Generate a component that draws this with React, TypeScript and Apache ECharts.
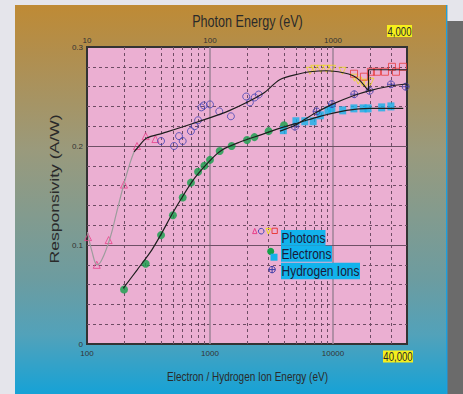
import React, { useEffect, useRef } from 'react';
import * as echarts from 'echarts';

// ---------- data (photon energies in eV on the top axis, electron / ion energies in eV on the bottom axis) ----------
const photonTriangles: [number, number][] = [
  [10.2, 0.108], [12, 0.08], [15, 0.105], [20, 0.161], [25.5, 0.2], [30, 0.21], [36, 0.207],
];
const photonCircles: [number, number][] = [
  [40, 0.205], [51, 0.2], [56, 0.21], [60, 0.205], [70, 0.215], [75, 0.22], [80, 0.226], [85, 0.239],
  [89, 0.241], [100, 0.242], [119, 0.235], [148, 0.23], [197, 0.25], [211, 0.244], [231, 0.249], [249, 0.252],
];
const photonDownTriangles: [number, number][] = [
  [650, 0.276], [705, 0.278], [794, 0.278], [885, 0.278], [981, 0.278], [1194, 0.276],
  [1496, 0.269], [1606, 0.266], [1738, 0.264], [1855, 0.263], [2018, 0.265],
];
const photonSquares: [number, number][] = [
  [1483, 0.273], [1786, 0.27], [2036, 0.275], [2278, 0.275], [2647, 0.275], [3019, 0.28], [3253, 0.275], [3709, 0.28],
];
const photonFitGray: [number, number][] = [
  [10.1, 0.113], [11, 0.093], [12.1, 0.08], [13.2, 0.085], [15.4, 0.107], [17.5, 0.134], [20, 0.162], [22.4, 0.183], [24.1, 0.194],
];
const photonFitBlack: [number, number][] = [
  [24.1, 0.194], [26.1, 0.199], [30.6, 0.208], [41.5, 0.213], [78, 0.224], [145, 0.236], [270, 0.253], [369, 0.267],
  [536, 0.273], [650, 0.275], [889, 0.276], [1212, 0.274], [1459, 0.271], [1660, 0.266], [1882, 0.258], [1947, 0.256],
];
const photonBracket: [number, number][] = [
  [1947, 0.256], [1947, 0.277], [4000, 0.277],
];
const electronDots: [number, number][] = [
  [200, 0.055], [300, 0.081], [400, 0.11], [500, 0.13], [600, 0.148], [700, 0.163], [800, 0.174], [900, 0.18],
  [1000, 0.186], [1200, 0.195], [1500, 0.2], [2000, 0.206], [2300, 0.209], [3000, 0.215], [4000, 0.221],
];
const electronSquares: [number, number][] = [
  [3950, 0.216], [5000, 0.225], [5900, 0.225], [6900, 0.225], [7900, 0.231], [9100, 0.236], [9800, 0.238],
  [12000, 0.236], [14800, 0.238], [17600, 0.238], [19300, 0.238], [24900, 0.239], [29600, 0.24],
];
const electronFit: [number, number][] = [
  [197, 0.0562], [255, 0.0747], [336, 0.0949], [405, 0.112], [491, 0.131], [592, 0.148], [755, 0.168],
  [1032, 0.187], [1253, 0.196], [1754, 0.204], [2552, 0.211], [3948, 0.219], [5395, 0.224], [7836, 0.23],
  [12910, 0.236], [20000, 0.238], [37300, 0.238],
];
const hydrogenPoints: [number, number][] = [
  [4910, 0.2195], [7360, 0.235], [9810, 0.2424], [14900, 0.2523], [19870, 0.2557], [29650, 0.2623], [39000, 0.2599],
];
const hydrogenFit: [number, number][] = [
  [3707, 0.215], [4910, 0.221], [5920, 0.227], [7360, 0.234], [9810, 0.242], [14800, 0.251], [20000, 0.256],
  [29600, 0.2606], [40000, 0.2626],
];

const minorGridX = [200, 300, 400, 500, 600, 700, 800, 900, 2000, 3000, 4000, 5000, 6000, 7000, 8000, 9000, 20000, 30000];
const majorGridX = [1000, 10000];
const majorGridY = [0.1, 0.2];
const legendNames = ['Photons', 'Electrons', 'Hydrogen Ions'];

const FONT = 'Liberation Sans';
const crossCircle = 'path://M10 1A9 9 0 1 1 9.99 1ZM10 1L10 19M1 10L19 10';

export default function App() {
  const ref = useRef<HTMLDivElement>(null);
  useEffect(() => {
    document.body.style.margin = '0';
    const chart = echarts.init(ref.current!, null, { renderer: 'svg' });

    const hollow = (c: string) => ({ color: 'rgba(0,0,0,0)', borderColor: c, borderWidth: 1 });
    const scaledText = (text: string, x: number, y: number, size: number, extra: any = {}) => ({
      type: 'text', x, y, scaleY: 1.3, z: 10,
      style: { text, fontSize: size, fontFamily: FONT, fill: '#2a2a2a', align: 'center', verticalAlign: 'middle', textAlign: 'center', textVerticalAlign: 'middle' },
      ...extra,
    });

    const markData: any[] = [
      ...minorGridX.map((v) => ({ xAxis: v, lineStyle: { type: [3, 3], color: '#6e4c64', width: 1 } })),
      ...majorGridX.map((v) => ({ xAxis: v, lineStyle: { type: 'solid', color: '#a2869a', width: 1.6 } })),
      ...majorGridY.map((v) => ({ yAxis: v, lineStyle: { type: 'solid', color: '#6e5066', width: 1.2 } })),
    ];

    const legendBoxes = [
      { x: 281, y: 230, w: 44.5, h: 15.7 },
      { x: 281, y: 245.7, w: 51, h: 16 },
      { x: 281, y: 262.8, w: 79, h: 16.4 },
    ];

    const tickLabel = (margin: number) => ({
      fontSize: 8, color: '#333', margin, fontFamily: FONT, showMaxLabel: false,
      formatter: (v: number) => String(Math.round(v)),
    });

    const option: any = {
      animation: false,
      backgroundColor: new echarts.graphic.LinearGradient(0, 0, 0, 1, [
        { offset: 0, color: '#c08a32' },
        { offset: 0.13, color: '#b28e4c' },
        { offset: 0.38, color: '#9a9a7c' },
        { offset: 0.71, color: '#6c9ca0' },
        { offset: 0.85, color: '#52a2ba' },
        { offset: 1, color: '#16a2d6' },
      ]),
      grid: {
        left: 87, top: 47, width: 320, height: 297, show: true,
        backgroundColor: '#ebafd2', borderColor: '#333', borderWidth: 2,
      },
      xAxis: [
        {
          type: 'log', logBase: 10, min: 100, max: 40000, position: 'bottom',
          axisLine: { show: false }, axisTick: { show: false }, splitLine: { show: false },
          axisLabel: tickLabel(5),
        },
        {
          type: 'log', logBase: 10, min: 10, max: 4000, position: 'top',
          axisLine: { show: false }, axisTick: { show: false }, splitLine: { show: false },
          axisLabel: tickLabel(3),
        },
      ],
      yAxis: {
        type: 'value', min: 0, max: 0.3, interval: 0.1,
        axisLine: { show: false }, axisTick: { show: false }, splitLine: { show: false },
        minorTick: { show: false, splitNumber: 5 },
        minorSplitLine: { show: true, lineStyle: { type: [3, 3], color: '#6e4c64', width: 1 } },
        axisLabel: { fontSize: 8, color: '#333', margin: 4, fontFamily: FONT, formatter: (v: number) => (v === 0 ? '0' : v.toFixed(1)) },
      },
      series: [
        {
          type: 'line', xAxisIndex: 0, data: electronFit, smooth: 0.3, symbol: 'none',
          lineStyle: { color: '#1e1e1e', width: 1.2 },
          markLine: { z: 1, silent: true, symbol: ['none', 'none'], label: { show: false }, animation: false, data: markData },
        },
        { type: 'line', xAxisIndex: 1, data: photonFitGray, smooth: 0.4, symbol: 'none', lineStyle: { color: '#9c9c9c', width: 1.2 } },
        { type: 'line', xAxisIndex: 1, data: photonFitBlack, smooth: 0.3, symbol: 'none', lineStyle: { color: '#1e1e1e', width: 1.2 } },
        { type: 'line', xAxisIndex: 1, data: photonBracket, symbol: 'none', lineStyle: { color: '#1e1e1e', width: 1.2 } },
        { type: 'line', xAxisIndex: 0, data: hydrogenFit, smooth: 0.3, symbol: 'none', lineStyle: { color: '#1e1e1e', width: 1.2 } },
        { type: 'scatter', xAxisIndex: 1, data: photonTriangles, symbol: 'triangle', symbolSize: 7, itemStyle: hollow('#e8408a') },
        { type: 'scatter', xAxisIndex: 1, data: photonCircles, symbol: 'circle', symbolSize: 7, itemStyle: hollow('#4444b4') },
        { type: 'scatter', xAxisIndex: 1, data: photonDownTriangles, symbol: 'triangle', symbolRotate: 180, symbolSize: 7, itemStyle: hollow('#eedc1c') },
        { type: 'scatter', xAxisIndex: 1, data: photonSquares, symbol: 'rect', symbolSize: 7, itemStyle: hollow('#e83c3c') },
        { type: 'scatter', xAxisIndex: 0, data: electronDots, symbol: 'circle', symbolSize: 8, itemStyle: { color: '#13a04a' } },
        { type: 'scatter', xAxisIndex: 0, data: electronSquares, symbol: 'rect', symbolSize: [7, 8], itemStyle: { color: '#14b2ea' } },
        { type: 'scatter', xAxisIndex: 0, data: hydrogenPoints, symbol: crossCircle, symbolSize: 7, itemStyle: hollow('#3a3aa6') },
      ],
      graphic: [
        { type: 'rect', shape: { x: 0, y: 0, width: 15, height: 394 }, style: { fill: '#e5e5eb' } },
        { type: 'rect', shape: { x: 0, y: 0, width: 463, height: 5 }, style: { fill: '#e5e5eb' } },
        { type: 'rect', shape: { x: 446, y: 5, width: 1.5, height: 389 }, style: { fill: '#1c9fe0' } },
        { type: 'rect', shape: { x: 447.5, y: 0, width: 16, height: 21 }, style: { fill: '#e5e5eb' } },
        { type: 'rect', shape: { x: 447.5, y: 21, width: 16, height: 373 }, style: { fill: '#6b6b6b' } },
        scaledText('Photon Energy (eV)', 247.5, 21.5, 12.6),
        scaledText('Electron / Hydrogen Ion Energy (eV)', 247.5, 376.5, 10),
        {
          type: 'text', x: 54, y: 189, rotation: Math.PI / 2, scaleX: 1.3, z: 10,
          style: { text: 'Responsivity (A/W)', fontSize: 13.5, fontFamily: FONT, fill: '#2a2a2a', align: 'center', verticalAlign: 'middle', textAlign: 'center', textVerticalAlign: 'middle' },
        },
        { type: 'rect', z: 10, shape: { x: 387, y: 25, width: 25, height: 12 }, style: { fill: '#f6ef1c' } },
        scaledText('4,000', 399.5, 31.2, 9.6),
        { type: 'rect', z: 10, shape: { x: 383, y: 350.5, width: 30, height: 12 }, style: { fill: '#f6ef1c' } },
        scaledText('40,000', 398, 356.7, 9.6),
        ...legendBoxes.map((b) => ({ type: 'rect', z: 10, shape: { x: b.x, y: b.y, width: b.w, height: b.h }, style: { fill: '#12b3ec' } })),
        ...legendNames.map((n, i) => ({
          type: 'text', x: 281.5, y: legendBoxes[i].y + legendBoxes[i].h / 2 + 0.3, scaleY: 1.2, z: 11,
          style: { text: n, fontSize: 12, fontFamily: FONT, fill: '#1a1a3a', align: 'left', verticalAlign: 'middle', textAlign: 'left', textVerticalAlign: 'middle' },
        })),
        { type: 'polygon', z: 11, shape: { points: [[252.6, 233.6], [256.9, 233.6], [254.75, 228.4]] }, style: { fill: 'none', stroke: '#e8408a', lineWidth: 1 } },
        { type: 'circle', z: 11, shape: { cx: 261.2, cy: 231.2, r: 2.8 }, style: { fill: 'none', stroke: '#4444b4', lineWidth: 1 } },
        { type: 'polygon', z: 11, shape: { points: [[266, 228.4], [270.7, 228.4], [268.35, 234]] }, style: { fill: 'none', stroke: '#eedc1c', lineWidth: 1 } },
        { type: 'rect', z: 11, shape: { x: 272, y: 228.2, width: 5.3, height: 5.3 }, style: { fill: 'none', stroke: '#e83c3c', lineWidth: 1 } },
        { type: 'circle', z: 11, shape: { cx: 270.7, cy: 251.4, r: 3.5 }, style: { fill: '#13a04a' } },
        { type: 'rect', z: 11, shape: { x: 270.5, y: 253.7, width: 7, height: 7 }, style: { fill: '#14b2ea' } },
        { type: 'circle', z: 11, shape: { cx: 272.1, cy: 269.6, r: 3.2 }, style: { fill: 'none', stroke: '#3a3aa6', lineWidth: 1 } },
        { type: 'line', z: 11, shape: { x1: 272.1, y1: 266.4, x2: 272.1, y2: 272.8 }, style: { stroke: '#3a3aa6', lineWidth: 1 } },
        { type: 'line', z: 11, shape: { x1: 268.9, y1: 269.6, x2: 275.3, y2: 269.6 }, style: { stroke: '#3a3aa6', lineWidth: 1 } },
      ],
    };

    chart.setOption(option);
    return () => chart.dispose();
  }, []);
  return <div ref={ref} style={{ width: 463, height: 394 }} />;
}
